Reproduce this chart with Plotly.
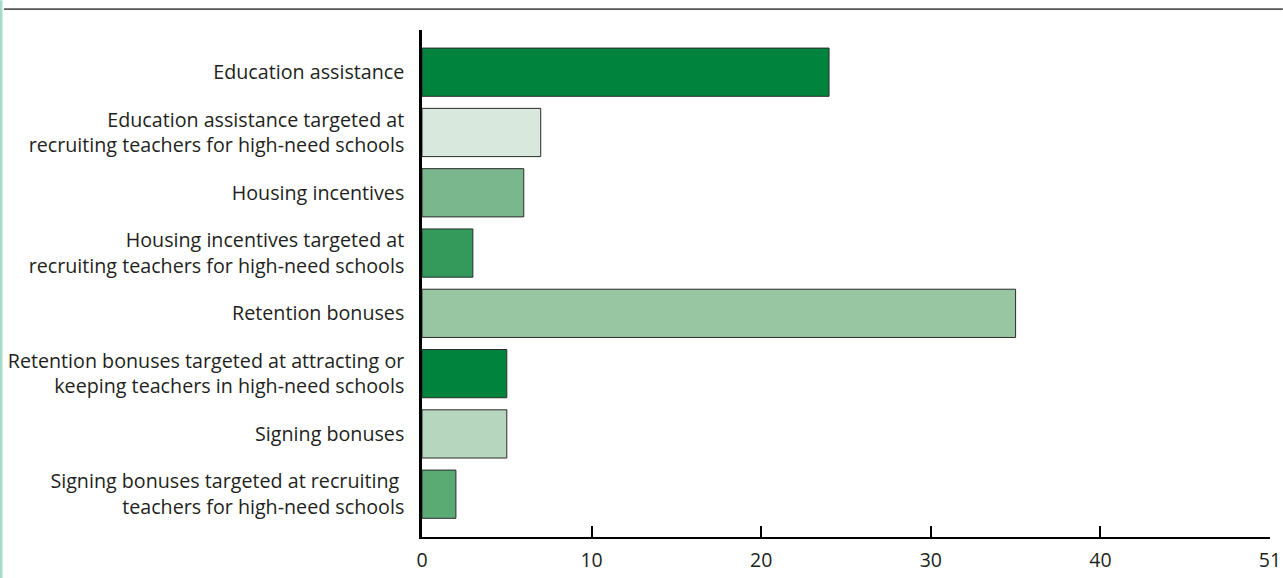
import plotly.graph_objects as go

categories = [
    "Education assistance",
    "Education assistance targeted at<br>recruiting teachers for high-need schools",
    "Housing incentives",
    "Housing incentives targeted at<br>recruiting teachers for high-need schools",
    "Retention bonuses",
    "Retention bonuses targeted at attracting or<br>keeping teachers in high-need schools",
    "Signing bonuses",
    "Signing bonuses targeted at recruiting <br>teachers for high-need schools",
]
values = [24, 7, 6, 3, 35, 5, 5, 2]
bar_colors = ["#00843d", "#d8e8dc", "#7ab78c", "#339a5c",
              "#98c6a2", "#00843d", "#b6d6bd", "#5aaa73"]
tick_vals = [0, 10, 20, 30, 40, 50]
tick_text = ["0", "10", "20", "30", "40", "51"]

FONT = "Open Sans"
TXT = "#231f20"
W, H = 1298, 585
PL, PT = 427, 30
PR, PB = 1285, 543
PW, PH = PR - PL, PB - PT


def px(xp):
    return (xp - PL) / PW


def py(yp):
    return 1 - (yp - PT) / PH


fig = go.Figure(go.Bar(
    x=values, y=categories, orientation="h",
    marker=dict(color=bar_colors, line=dict(color="#2b2b2b", width=1)),
    hoverinfo="x+y",
))

fig.update_layout(
    width=W, height=H, autosize=False,
    margin=dict(l=PL, r=W - PR, t=PT, b=H - PB),
    paper_bgcolor="white", plot_bgcolor="white",
    bargap=0.2,
    showlegend=False,
    font=dict(family=FONT, size=19.5, color=TXT),
    xaxis=dict(
        range=[0, 50], tickvals=tick_vals, ticktext=tick_text,
        showgrid=False, zeroline=False,
        showline=True, linecolor="black", linewidth=2,
        ticks="inside", ticklen=11, tickwidth=2, tickcolor="black",
        tickfont=dict(family=FONT, size=19.5, color=TXT),
        ticklabelstandoff=5,
    ),
    yaxis=dict(
        range=[7.71, -0.70],
        showgrid=False, zeroline=False,
        showline=True, linecolor="black", linewidth=2.5,
        ticks="", tickfont=dict(family=FONT, size=19.7, color=TXT),
        ticklabelstandoff=11,
    ),
    shapes=[
        dict(type="line", xref="paper", yref="paper",
             x0=px(4), x1=px(W), y0=py(8.8), y1=py(8.8),
             line=dict(color="#555555", width=1.8)),
        dict(type="rect", xref="paper", yref="paper",
             x0=px(0), x1=px(2.5), y0=py(H), y1=py(0),
             fillcolor="#a5dcc9", line=dict(width=0)),
    ],
)

fig.write_html(
    "out.html",
    config={"displayModeBar": False, "responsive": False},
    post_script=(
        "document.body.style.margin='0';"
        "document.body.style.overflow='hidden';"
        "var gd=document.getElementById('{plot_id}');"
        "gd.style.position='relative';gd.style.left='-5px';"
    ),
)
